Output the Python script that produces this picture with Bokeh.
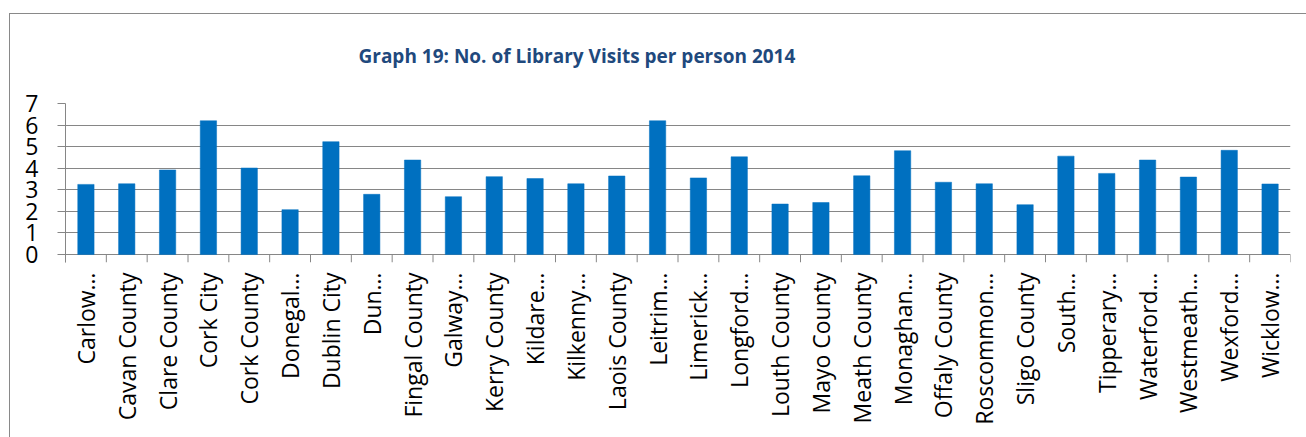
from math import pi
from bokeh.plotting import figure
from bokeh.models import (Range1d, LinearAxis, FixedTicker, ColumnDataSource,
                          InlineStyleSheet)
from bokeh.embed import file_html
from bokeh.resources import INLINE

categories = ["Carlow…", "Cavan County", "Clare County", "Cork City", "Cork County",
              "Donegal…", "Dublin City", "Dun…", "Fingal County", "Galway…",
              "Kerry County", "Kildare…", "Kilkenny…", "Laois County", "Leitrim…",
              "Limerick…", "Longford…", "Louth County", "Mayo County", "Meath County",
              "Monaghan…", "Offaly County", "Roscommon…", "Sligo County", "South…",
              "Tipperary…", "Waterford…", "Westmeath…", "Wexford…", "Wicklow…"]
visits = [3.25, 3.28, 3.92, 6.20, 4.01, 2.08, 5.23, 2.79, 4.38, 2.68,
          3.61, 3.52, 3.28, 3.64, 6.20, 3.55, 4.53, 2.34, 2.41, 3.65,
          4.81, 3.35, 3.28, 2.31, 4.56, 3.76, 4.38, 3.59, 4.83, 3.27]
y_ticks = [0, 1, 2, 3, 4, 5, 6, 7]
title_text = "Graph 19: No. of Library Visits per person 2014"

GRAY = "#868686"
FONT = "Open Sans"

n = len(categories)
centers = [i + 0.5 for i in range(n)]
bounds = list(range(n + 1))
src = ColumnDataSource(dict(x=centers, v=visits, cat=categories))
tick_src = ColumnDataSource(dict(x=bounds, y0=[0] * len(bounds),
                                 y1=[-0.37] * len(bounds)))

p = figure(width=1306, height=437, output_backend="svg", toolbar_location=None,
           x_range=Range1d(0, n), y_range=Range1d(-0.37, 7), x_axis_location=None,
           min_border_left=65, min_border_right=16, min_border_top=103,
           min_border_bottom=175)
p.outline_line_color = None
p.background_fill_color = "white"
p.border_fill_color = None

p.vbar(x="x", top="v", width=0.4, source=src, fill_color="#0070C0",
       line_color="#0070C0", line_width=0.5)

# category boundary ticks under the axis line
p.segment(x0="x", y0="y0", x1="x", y1="y1", source=tick_src,
          line_color=GRAY, line_width=1)

# y axis
p.yaxis.ticker = FixedTicker(ticks=y_ticks)
p.yaxis.axis_line_color = GRAY
p.yaxis.major_tick_line_color = GRAY
p.yaxis.major_tick_out = 8
p.yaxis.major_tick_in = 0
p.yaxis.minor_tick_line_color = None
p.yaxis.major_label_text_font = FONT
p.yaxis.major_label_text_font_size = "23px"
p.yaxis.major_label_text_color = "black"
p.yaxis.major_label_standoff = 19
p.ygrid.ticker = FixedTicker(ticks=y_ticks)
p.ygrid.grid_line_color = GRAY
p.ygrid.grid_line_width = 1
p.xgrid.grid_line_color = None

# label axis with category names at centres
cat_axis = LinearAxis(ticker=FixedTicker(ticks=centers),
                      major_label_overrides={c: name for c, name in zip(centers, categories)},
                      axis_line_color=None, major_tick_line_color=None,
                      minor_tick_line_color=None,
                      major_tick_out=0, major_tick_in=0,
                      major_label_orientation=pi / 2,
                      major_label_standoff=10,
                      major_label_text_font=FONT,
                      major_label_text_font_size="23px",
                      major_label_text_color="black")
p.add_layout(cat_axis, "below")

# title
p.title.text = title_text
p.title.align = "left"
p.title.offset = 293
p.title.text_font = FONT
p.title.text_font_size = "19px"
p.title.text_font_style = "bold"
p.title.text_color = "#1F497D"
p.title.standoff = 69

# chart border (left and top edges visible in the window)
p.stylesheets = [InlineStyleSheet(css="""
:host { position: relative; }
:host::after {
  content: ""; position: absolute; left: 9px; top: 13px; right: 0px; bottom: 0px;
  border-left: 1.5px solid #898989; border-top: 1.5px solid #898989;
  pointer-events: none; z-index: 10;
}
""")]

open("out.html", "w").write(file_html(p, INLINE))
